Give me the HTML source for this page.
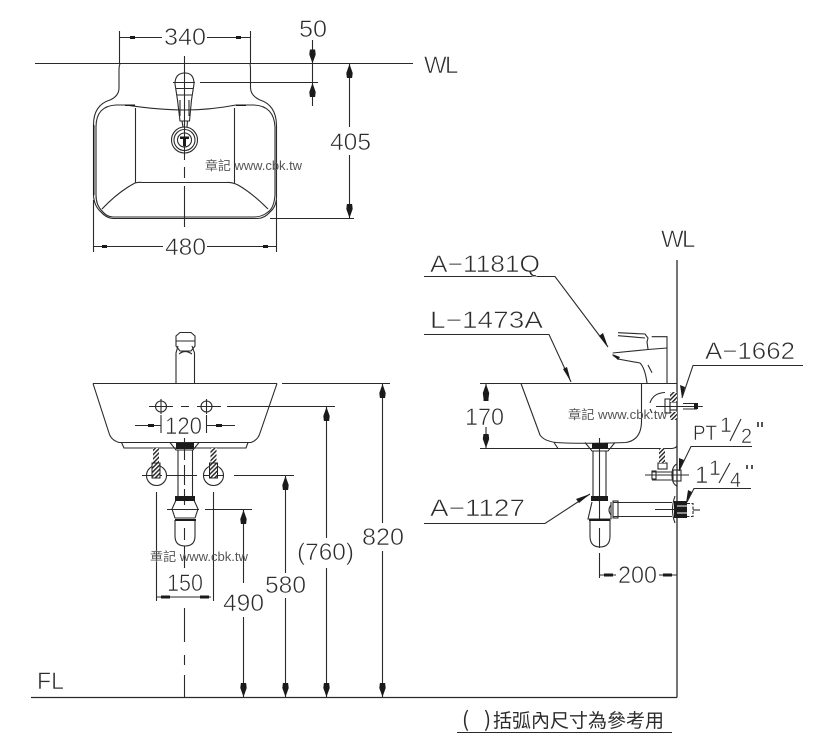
<!DOCTYPE html>
<html><head><meta charset="utf-8"><style>
html,body{margin:0;padding:0;background:#fff}
svg{display:block}
.l{fill:none;stroke:#2a2a2a;stroke-width:1.1}
.d{fill:#1a1a1a;stroke:none}
text{font-family:"Liberation Sans","WenQuanYi Zen Hei",sans-serif;fill:#2c2c2c}
.t{font-size:24px;stroke:#fff;stroke-width:.6}
.s{font-size:21px;stroke:#fff;stroke-width:.5}
.w{font-size:12.5px;fill:#555}
</style></head><body>
<svg width="817" height="749" viewBox="0 0 817 749" xmlns="http://www.w3.org/2000/svg">
<defs>
<polygon id="u" points="0,0 3.2,9 2.6,14 -2.6,14 -3.2,9" class="d"/>
<polygon id="v" points="0,0 3.2,-9 2.6,-14 -2.6,-14 -3.2,-9" class="d"/>
<pattern id="h" width="3" height="3" patternUnits="userSpaceOnUse" patternTransform="rotate(45)">
<rect width="3" height="3" fill="#fff"/><rect width="1.4" height="3" fill="#222"/>
</pattern>
</defs>

<!-- TOP VIEW -->
<g class="l">
<path d="M35 63.5H413"/>
<path d="M119.5 31V63M250.5 31V63M119.5 37.5H162M207 37.5H250.5"/>
<path d="M312.5 40V106M200 82.5H318M173 82.5H195"/>
<path d="M349.5 64V127M349.5 155V218M270 218.5H354"/>
<path d="M93.5 200V252M276.5 200V252M93.5 246.5H163M207 246.5H276.5"/>
<path d="M120 64Q119 66 119 70V88Q119 96 110 100Q93.5 105 93.5 125V195Q94 206 101 212Q106 218 113 218.5H258Q265 218 270 212Q277 206 276.5 195V125Q276 105 260 100Q251 96 250.5 88V70Q250.5 66 250 64"/>
<path d="M96 127Q96 106 116 105H126Q160 110 185 110Q210 110 236 105H254Q274 106 275 127V195Q274 208 268 212Q262 217 254 217H113Q107 217 102 211Q96 205 96 195Z"/>
<path d="M135.5 108V183M234.5 108V183M102 209Q118 192 135 183Q139 182 143 182.5H226Q232 182 238 185Q252 193 268 209"/>
<path d="M184.5 56V160M184.5 167V178M184.5 186V227"/>
<path d="M175 84Q175 73 185 73Q194 73 194 84L191.5 100L189.5 121H180L177.5 100Z"/>
<path d="M174 82.5H195M176 88.5H193M177 95H192M180 100V116M189 100V116M182 121L183 127M187.5 121L187 127"/>
<circle cx="184.5" cy="140" r="13"/><circle cx="184.5" cy="140" r="10.5"/><circle cx="184.5" cy="140" r="7"/>
</g>
<path d="M180 136.5H189V139H186V146H183V139H180Z" class="d"/>
<path class="d" d="M130 36H135V39H130ZM236 36H241V39H236ZM102 245H107V248H102ZM263 245H268V248H263ZM93 125H94.5V195H93ZM125 104.500H135V106H125ZM236 104.500H246V106H236Z"/>
<use href="#u" x="349.5" y="64"/><use href="#v" x="349.5" y="218"/>
<use href="#v" x="312.5" y="63.5"/><use href="#u" x="312.5" y="83"/>
<text class="t" x="164" y="45" textLength="42" lengthAdjust="spacingAndGlyphs">340</text>
<text class="t" x="299" y="37" textLength="28" lengthAdjust="spacingAndGlyphs">50</text>
<text class="t" x="330" y="150" textLength="41" lengthAdjust="spacingAndGlyphs">405</text>
<text class="t" x="165" y="255" textLength="41" lengthAdjust="spacingAndGlyphs">480</text>
<text class="t" x="424 445" y="73">WL</text>
<text class="w" x="205" y="170" textLength="97" lengthAdjust="spacingAndGlyphs">章記 www.cbk.tw</text>

<!-- FRONT VIEW -->
<g class="l">
<path d="M176 383V353L178 346M194.5 383V353L192 346M176 346L176 336L180 332.5H191L195 336V346L191 351H180Z"/>
<path d="M176 341H195M179 354Q185 349 192 354"/>
<path d="M282 383.5H390M93 383.5H277"/>
<path d="M93 383.5L109 433Q111 440 119 442.5H251Q258 440 260 433L277 383.5"/>
<path d="M121.5 442.5L124 448H246L248 442.5"/>
<path d="M170 442.5L176 450H193L199 442.5M178 450V497M192.500 450V497"/>
<path d="M177 498L172 509L175 518H195L198 509L193 498Z"/>
<path d="M175 520V536Q175 546 185 546Q195 546 195 536V520"/>
<path d="M184.5 438V460M184.5 465V485M184.5 489V505M184.5 528V540M184.5 546V568M184.5 608V642M184.5 655V665M184.5 675V697"/>
<circle cx="161" cy="406.5" r="5.5"/><circle cx="206.5" cy="406.5" r="5.5"/>
<path d="M149 406.5H173M181 406.5H189M197 406.5H221M161 399V414M206.5 399V414M227 406.5H335"/>
<path d="M161 415V433M206.5 415V433M135 425.5H161M206.5 425.5H235"/>
<circle cx="156.5" cy="475.5" r="10"/><circle cx="213.5" cy="475.5" r="10"/>
<path d="M142 475.5H162M167 475.5H197M204 475.5H224M234 475.5H294"/>
<path d="M156.5 492V601M213.5 492V601M156.5 597H211"/>
<path d="M167 509.5H199M205 509.5H252"/>
<path d="M243.5 510V583M243.5 617V697M285.5 476V573M285.5 598V697M326.5 407V538M326.5 568V697M382.5 384V523M382.5 551V697"/>
</g>
<rect x="153" y="448" width="6" height="15" fill="url(#h)"/>
<rect x="210.500" y="448" width="6" height="15" fill="url(#h)"/>
<rect x="152" y="463" width="8" height="15" fill="url(#h)" stroke="#222"/>
<rect x="209.500" y="463" width="8" height="15" fill="url(#h)" stroke="#222"/>
<path class="d" d="M175 496H195V501H175ZM175 519H196V521H175ZM176 443H194V449H176ZM148 424H154V427H148ZM216 424H222V427H216ZM161 595.5H170V598.5H161ZM200 595.5H209V598.5H200Z"/>
<use href="#u" x="243.5" y="510"/><use href="#v" x="243.5" y="697"/>
<use href="#u" x="285.5" y="476"/><use href="#v" x="285.5" y="697"/>
<use href="#u" x="326.5" y="407"/><use href="#v" x="326.5" y="697"/>
<use href="#u" x="382.5" y="384"/><use href="#v" x="382.5" y="697"/>
<text class="t" x="165" y="434" textLength="37" lengthAdjust="spacingAndGlyphs">120</text>
<text class="t" x="167" y="591" textLength="36" lengthAdjust="spacingAndGlyphs">150</text>
<text class="t" x="223" y="611" textLength="41" lengthAdjust="spacingAndGlyphs">490</text>
<text class="t" x="265" y="593" textLength="41" lengthAdjust="spacingAndGlyphs">580</text>
<text class="t" x="297" y="560" textLength="57" lengthAdjust="spacingAndGlyphs">(760)</text>
<text class="t" x="362" y="545" textLength="42" lengthAdjust="spacingAndGlyphs">820</text>
<text class="w" x="150" y="561" textLength="98" lengthAdjust="spacingAndGlyphs">章記 www.cbk.tw</text>

<!-- BASELINES -->
<path class="l" style="stroke-width:1.3" d="M31 697.5H677M677 260V697.5"/>
<text class="t" x="37" y="689" textLength="27" lengthAdjust="spacingAndGlyphs">FL</text>
<text class="t" x="661 682" y="247">WL</text>

<!-- SIDE VIEW -->
<g class="l">
<path d="M480 383.5H677M480 448.5H672Q676 448 677 446"/>
<path d="M521 383.5L540 435Q544 441 556 442.5Q580 444 626 442.5Q641 440 641.5 422V383.5"/>
<path d="M554 442.5L558 448.5"/>
<path d="M486 383.5V397M486 427V448.5"/>
<path d="M585 442.5L592 451H608L615 442.5M593 451V497M606 451V497"/>
<path d="M592 502L588 519H611L611 502"/>
<path d="M590 520V536Q590 547 600 547Q610 547 610 536V520"/>
<path d="M599.5 438V520M599.5 528V548M599.5 553V578M599.5 575H616M659 575H677"/>
<path d="M613 502.5H672M613 516.5H672M655 509.5H676"/>
<rect x="613" y="501" width="5" height="17"/>
<path d="M611 505Q607 510 611 515"/>
<path d="M675 496Q670 510 675 523"/>
<path d="M687 503.5H693V516.5H687" stroke-dasharray="3 1.500"/>
<path d="M693 510H700"/>
<!-- faucet -->
<path d="M618 332.7L645 334L648 338L647 342L648 349M618 335.7L645 338M651.700 336.700H667V348M667 348V383"/>
<path d="M612.700 353L648 349.500L667 348M612.700 355L618 359L640 363Q645 368 647 383M648 365L652 372.700"/>
<!-- A-1662 fitting -->
<path d="M665 392.500Q653 393 650 403M650 409L652 413M656 406.500H702.700"/>
<rect x="665" y="399" width="5" height="14"/>
<rect x="670" y="402" width="7" height="8"/>
<path d="M683 403.500H697M683 409H697"/>
<!-- valve -->
<path d="M645 475H689M652 472H672M652 480H672M677 464Q672 466 672 475Q672 484 677 486"/>
<rect x="673" y="470" width="8" height="11"/>
<rect x="658" y="463" width="9" height="6"/>
<rect x="652" y="471" width="4" height="8"/>
<!-- leaders -->
<path d="M424 276.5H555L608 347"/>
<path d="M424 334.5H549L571 382"/>
<path d="M424 523.5H545L590 494"/>
<path d="M803 365.5H693L682 398"/>
<path d="M752 446.5H691L679 471"/>
<path d="M751 488.5H694L687 502"/>
<!-- fractions -->
<path d="M730 441L741 419M719 483L730 463"/>
<path d="M758 422V427M762 422V427M747 465V469M752 465V469" style="stroke-width:1.600"/>
</g>
<rect x="670" y="392" width="7" height="10" fill="url(#h)"/>
<rect x="670" y="412" width="7" height="8" fill="url(#h)"/>
<rect x="659" y="448" width="6" height="15" fill="url(#h)"/>
<path class="d" d="M608 347L599 336L603 333ZM571 382L563 369L567 367ZM590 494L576 499L579 503ZM682 398L680 385L685 387ZM679 471L679 458L684 460ZM686 503L688 490L692 492Z"/>
<path class="d" d="M591 496H608V501H591ZM589 519H610V521H589ZM592 443H608V449H592ZM483.5 398H488.5V401H483.5ZM604 573.5H613V576.5H604ZM663 573.5H672V576.5H663ZM694 403H698V409H694ZM612 354L620 357L618 360ZM674 501H687V518H674Z"/>
<path d="M677 506H687M677 513H687" stroke="#fff" stroke-width="1" fill="none"/>
<use href="#u" x="486" y="384"/><use href="#v" x="486" y="448"/>
<text class="t" x="465" y="425" textLength="39" lengthAdjust="spacingAndGlyphs">170</text>
<text class="t" x="618" y="583" textLength="39" lengthAdjust="spacingAndGlyphs">200</text>
<text class="w" x="568" y="419" textLength="99" lengthAdjust="spacingAndGlyphs">章記 www.cbk.tw</text>
<text class="t" x="430" y="272" textLength="110" lengthAdjust="spacingAndGlyphs">A−1181Q</text>
<text class="t" x="430" y="328" textLength="113" lengthAdjust="spacingAndGlyphs">L−1473A</text>
<text class="t" x="430" y="516" textLength="95" lengthAdjust="spacingAndGlyphs">A−1127</text>
<text class="t" x="705" y="359" textLength="90" lengthAdjust="spacingAndGlyphs">A−1662</text>
<text class="s" x="693" y="440" textLength="24" lengthAdjust="spacingAndGlyphs">PT</text>
<text class="s" x="720" y="432">1</text>
<text class="s" x="741" y="443" textLength="11" lengthAdjust="spacingAndGlyphs">2</text>
<text class="t" x="695" y="483">1</text>
<text class="s" x="709" y="475">1</text>
<text class="s" x="730" y="487" textLength="11" lengthAdjust="spacingAndGlyphs">4</text>

<!-- NOTE -->
<text style="font-size:21px;font-family:'WenQuanYi Zen Hei','Noto Sans CJK TC',sans-serif" x="462" y="727">(</text>
<text style="font-size:21px;font-family:'WenQuanYi Zen Hei','Noto Sans CJK TC',sans-serif" x="484" y="727">)</text>
<text style="font-size:19px;font-family:'WenQuanYi Zen Hei','Noto Sans CJK TC',sans-serif" x="493" y="727" textLength="171" lengthAdjust="spacingAndGlyphs">括弧內尺寸為參考用</text>
<path class="l" d="M457 732.5H672"/>
</svg>
</body></html>
